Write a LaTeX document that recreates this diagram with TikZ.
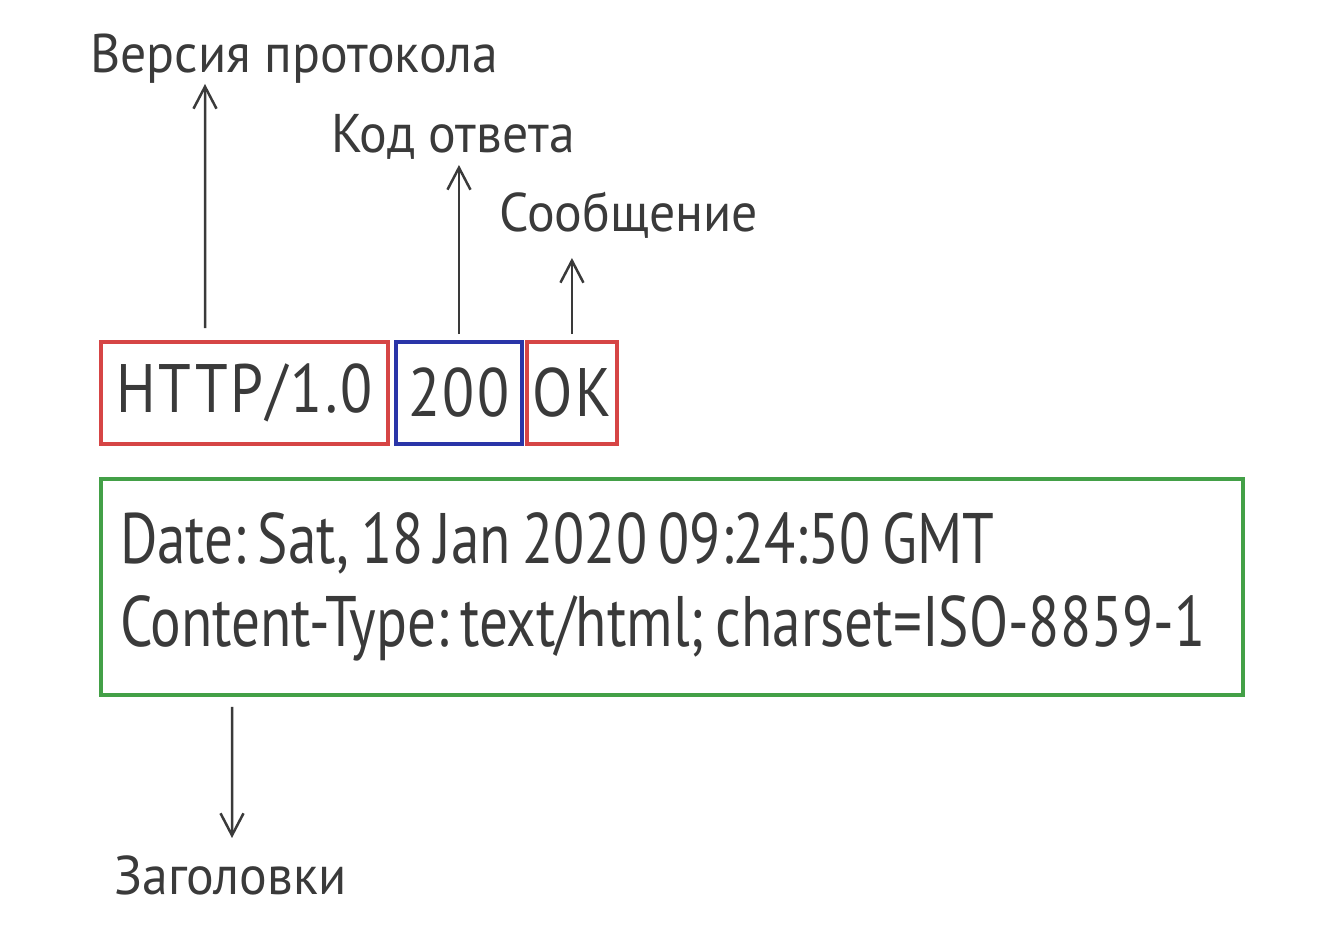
\documentclass[tikz,border=0pt]{standalone}
\usepackage{fontspec}
\usepackage{xcolor}
\usetikzlibrary{arrows.meta,positioning,calc}
\newfontfamily\labelfont{PT Sans}[FakeStretch=0.95]
\newfontfamily\boxfont{PT Sans}[FakeStretch=0.86, LetterSpace=4]
\newfontfamily\headfont{PT Sans}[FakeStretch=0.8]
\definecolor{ink}{HTML}{3A3A3A}
\definecolor{boxred}{HTML}{D64545}
\definecolor{boxblue}{HTML}{2A35A8}
\definecolor{boxgreen}{HTML}{43A047}

\begin{document}
\begin{tikzpicture}[
    x=0.02cm, y=0.02cm,
    field/.style={draw, line width=0.08cm, minimum height=2.04cm, inner sep=0pt, text=ink, font=\boxfont\fontsize{39}{44}\selectfont},
    version/.style={field, draw=boxred},
    status/.style={field, draw=boxblue},
    headers/.style={draw=boxgreen, line width=0.08cm, align=left, text=ink, inner xsep=0.38cm, font=\headfont\fontsize{40.7}{47.5}\selectfont\frenchspacing, execute at begin node={\spaceskip=0.16em\relax}},
    caption/.style={anchor=base west, inner sep=0pt, text=ink, font=\labelfont\fontsize{31}{36}\selectfont},
    arrow/.style={-{Straight Barb[length=0.44cm, width=0.46cm]}, line width=0.05cm, draw=ink}
]
\useasboundingbox (0,0) rectangle (1335,939);

% Status line
\node[version, minimum width=5.74cm] (http) at (244.5,546) {HTTP/1.0};
\node[status, minimum width=2.52cm, right=0.08cm of http] (code) {200};
\node[version, minimum width=1.8cm, right=0.02cm of code] (msg) {OK};

% Headers
\node[headers, text width=22.08cm, minimum height=4.32cm] (hdrs) at (672,352) {Date: Sat, 18 Jan 2020 09:24:50 GMT\\Content-Type: text/html; charset=ISO-8859-1};

% Captions
\node[caption] (verlbl) at (90,866) {Версия протокола};
\node[caption] (codelbl) at (331,786) {Код ответа};
\node[caption] (msglbl) at (499,707) {Сообщение};
\node[caption] (hdrlbl) at (114,44) {Заголовки};

% Arrow tips
\coordinate (vertip) at (205,855);
\coordinate (codetip) at (458,774);
\coordinate (msgtip) at (572,681);
\coordinate (hdrtip) at (232,101);

% Arrows
\draw[arrow] ([xshift=-0.79cm, yshift=0.24cm]http.north) -- (vertip);
\draw[arrow] ([yshift=0.12cm]code.north) -- (code.north |- codetip);
\draw[arrow] ([yshift=0.12cm]msg.north) -- (msg.north |- msgtip);
\draw[arrow] ([xshift=-8.8cm, yshift=-0.2cm]hdrs.south) -- (hdrtip);

\end{tikzpicture}
\end{document}
